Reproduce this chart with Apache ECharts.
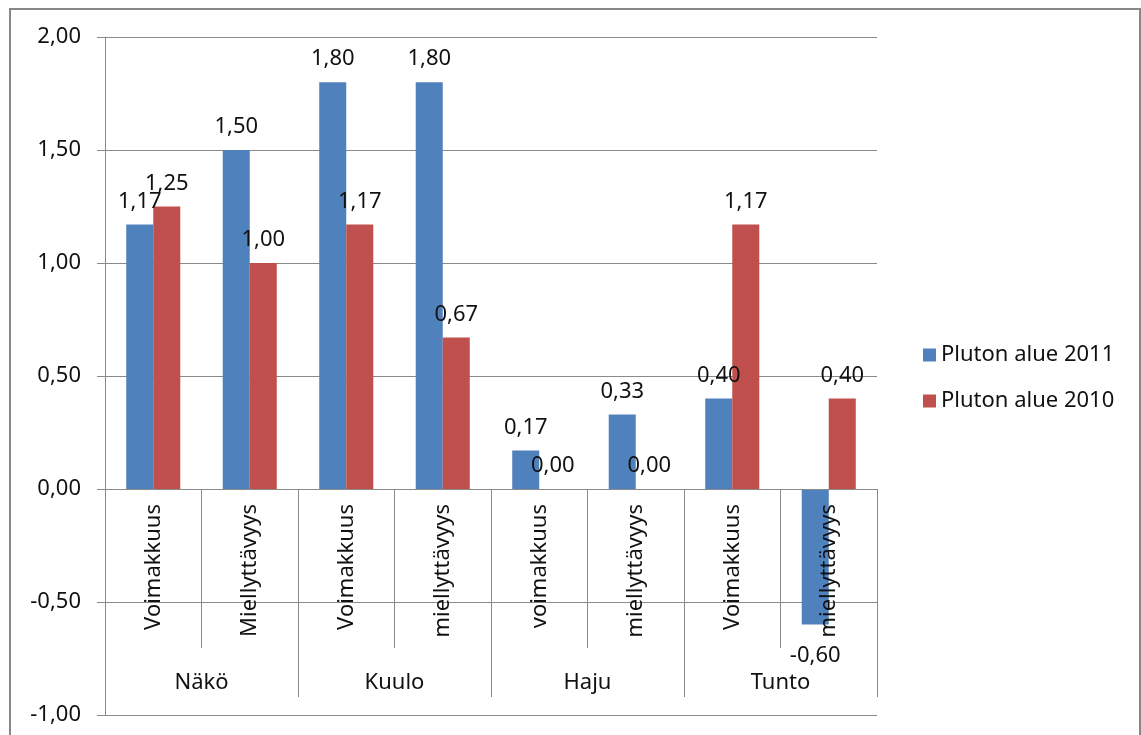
<!DOCTYPE html>
<html>
<head>
<meta charset="utf-8">
<script src="https://cdn.jsdelivr.net/npm/echarts@6/dist/echarts.min.js"></script>
<style>
  html, body { margin: 0; padding: 0; background: #fff; }
  #main { width: 1141px; height: 735px; }
</style>
</head>
<body>
<div id="main"></div>
<script>
// alaluokat ja aistiryhmät
const subCategories = ['Voimakkuus', 'Miellyttävyys', 'Voimakkuus', 'miellyttävyys', 'voimakkuus', 'miellyttävyys', 'Voimakkuus', 'miellyttävyys']
const groups = ['Näkö', 'Kuulo', 'Haju', 'Tunto']
const seriesNames = ['Pluton alue 2011', 'Pluton alue 2010']
const values2011 = [1.17, 1.5, 1.8, 1.8, 0.17, 0.33, 0.4, -0.6]
const values2010 = [1.25, 1.0, 1.17, 0.67, 0.0, 0.0, 1.17, 0.4]

const font = "'Noto Sans', 'DejaVu Sans', sans-serif"
const lineColor = '#8a8a8a'
const fmt = v => v.toFixed(2).replace('.', ',')

// grid: 0-viiva on 2/3 korkeudesta
const gridTop = 37
const gridHeight = 678
const zeroOffset = -gridHeight / 3

const chart = echarts.init(document.getElementById('main'))

// negatiivisen pylvään arvo alapuolelle
function toBarData(values) {
  return values.map(v => ({
    value: v,
    label: v < 0 ? { position: 'bottom', distance: 20 } : { position: 'top' }
  }))
}

const barLabel = {
  show: true,
  position: 'top',
  distance: 12,
  fontFamily: font,
  fontSize: 22,
  color: '#111',
  formatter: p => fmt(p.value)
}

const option = {
  animation: false,
  backgroundColor: '#fff',
  textStyle: { fontFamily: font },
  graphic: [
    {
      type: 'rect',
      shape: { x: 10, y: 9, width: 1130, height: 800 },
      style: { fill: 'none', stroke: '#878787', lineWidth: 2 },
      silent: true
    }
  ],
  legend: {
    orient: 'vertical',
    left: 918,
    top: 339,
    itemWidth: 13,
    itemHeight: 13,
    itemGap: 24,
    icon: 'rect',
    data: seriesNames,
    textStyle: { fontFamily: font, fontSize: 22, color: '#111' }
  },
  grid: {
    left: 105,
    top: gridTop,
    width: 772,
    height: gridHeight,
    outerBoundsMode: 'none',
    containLabel: false
  },
  xAxis: [
    {
      type: 'category',
      data: subCategories,
      offset: zeroOffset,
      z: 5, // teksti pylväiden päälle kuten alkuperäisessä
      axisLine: { onZero: false, lineStyle: { color: lineColor } },
      axisTick: { show: true, length: 159, interval: 0, lineStyle: { color: lineColor } },
      axisLabel: {
        interval: 0,
        rotate: 90,
        margin: 15,
        fontFamily: font,
        fontSize: 22,
        color: '#111'
      },
      splitLine: { show: false }
    },
    {
      type: 'category',
      data: groups,
      position: 'bottom',
      offset: zeroOffset,
      axisLine: { show: false, onZero: false },
      axisTick: { show: true, length: 208, interval: 0, lineStyle: { color: lineColor } },
      axisLabel: {
        interval: 0,
        margin: 183,
        fontFamily: font,
        fontSize: 22,
        color: '#111'
      },
      splitLine: { show: false }
    }
  ],
  yAxis: {
    type: 'value',
    min: -1,
    max: 2,
    interval: 0.5,
    axisLine: { show: true, lineStyle: { color: lineColor } },
    axisTick: { show: true, length: 8, lineStyle: { color: lineColor } },
    axisLabel: {
      margin: 24,
      fontFamily: font,
      fontSize: 22,
      color: '#111',
      formatter: v => fmt(v)
    },
    splitLine: { show: true, lineStyle: { color: lineColor, width: 1 } }
  },
  series: [
    {
      name: seriesNames[0],
      type: 'bar',
      data: toBarData(values2011),
      barGap: '0%',
      barCategoryGap: '44%',
      itemStyle: { color: '#4f81bd' },
      label: barLabel
    },
    {
      name: seriesNames[1],
      type: 'bar',
      data: toBarData(values2010),
      barGap: '0%',
      barCategoryGap: '44%',
      itemStyle: { color: '#c0504d' },
      label: barLabel
    }
  ]
}

chart.setOption(option)
</script>
</body>
</html>
